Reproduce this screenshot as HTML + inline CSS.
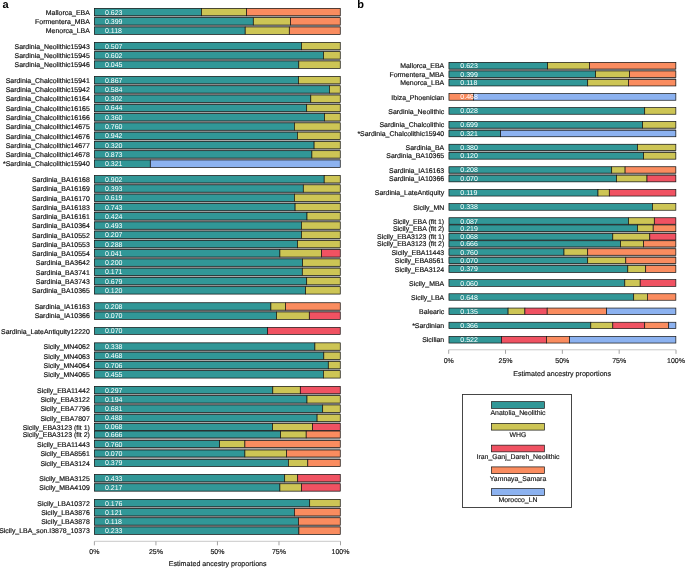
<!DOCTYPE html>
<html><head><meta charset="utf-8"><style>
html,body{margin:0;padding:0;background:#fff;}
svg{display:block;will-change:transform;}
text{text-rendering:geometricPrecision;}
text{font-family:"Liberation Sans",sans-serif;}
.lb{font-size:6.95px;fill:#111;stroke:#111;stroke-width:0.18px;text-anchor:end;}
.vl{font-size:7.0px;fill:#fff;}
.tk{font-size:7.0px;fill:#111;stroke:#111;stroke-width:0.15px;text-anchor:middle;}
.pl{font-size:11px;font-weight:bold;fill:#000;}
</style></head><body>
<svg width="685" height="568" viewBox="0 0 685 568">
<rect x="94.30" y="8.30" width="246.00" height="26.10" fill="#a8a8a8"/>
<rect x="94.30" y="42.30" width="246.00" height="26.10" fill="#a8a8a8"/>
<rect x="94.30" y="76.40" width="246.00" height="91.02" fill="#a8a8a8"/>
<rect x="94.30" y="175.50" width="246.00" height="118.62" fill="#a8a8a8"/>
<rect x="94.30" y="302.70" width="246.00" height="16.70" fill="#a8a8a8"/>
<rect x="94.30" y="342.80" width="246.00" height="35.31" fill="#a8a8a8"/>
<rect x="94.30" y="386.30" width="246.00" height="80.20" fill="#a8a8a8"/>
<rect x="94.30" y="474.40" width="246.00" height="16.80" fill="#a8a8a8"/>
<rect x="94.30" y="499.30" width="246.00" height="35.10" fill="#a8a8a8"/>
<rect x="448.90" y="62.30" width="227.00" height="23.70" fill="#a8a8a8"/>
<rect x="448.90" y="121.50" width="227.00" height="15.30" fill="#a8a8a8"/>
<rect x="448.90" y="144.20" width="227.00" height="15.00" fill="#a8a8a8"/>
<rect x="448.90" y="166.70" width="227.00" height="15.20" fill="#a8a8a8"/>
<rect x="448.90" y="217.70" width="227.00" height="54.70" fill="#a8a8a8"/>
<rect x="94.35" y="8.35" width="107.15" height="7.40" fill="#319797" stroke="#141414" stroke-width="0.7"/>
<rect x="201.50" y="8.35" width="45.10" height="7.40" fill="#CDC555" stroke="#141414" stroke-width="0.7"/>
<rect x="246.60" y="8.35" width="93.65" height="7.40" fill="#FA8C5F" stroke="#141414" stroke-width="0.7"/>
<text x="89.8" y="14.80" class="lb">Mallorca_EBA</text>
<text x="105.0" y="14.55" class="vl">0.623</text>
<rect x="94.35" y="17.65" width="158.95" height="7.40" fill="#319797" stroke="#141414" stroke-width="0.7"/>
<rect x="253.30" y="17.65" width="37.20" height="7.40" fill="#CDC555" stroke="#141414" stroke-width="0.7"/>
<rect x="290.50" y="17.65" width="49.75" height="7.40" fill="#FA8C5F" stroke="#141414" stroke-width="0.7"/>
<text x="89.8" y="24.10" class="lb">Formentera_MBA</text>
<text x="105.0" y="23.85" class="vl">0.399</text>
<rect x="94.35" y="26.95" width="150.85" height="7.40" fill="#319797" stroke="#141414" stroke-width="0.7"/>
<rect x="245.20" y="26.95" width="44.10" height="7.40" fill="#CDC555" stroke="#141414" stroke-width="0.7"/>
<rect x="289.30" y="26.95" width="50.95" height="7.40" fill="#FA8C5F" stroke="#141414" stroke-width="0.7"/>
<text x="89.8" y="33.40" class="lb">Menorca_LBA</text>
<text x="105.0" y="33.15" class="vl">0.118</text>
<rect x="94.35" y="42.35" width="207.15" height="7.40" fill="#319797" stroke="#141414" stroke-width="0.7"/>
<rect x="301.50" y="42.35" width="38.75" height="7.40" fill="#CDC555" stroke="#141414" stroke-width="0.7"/>
<text x="89.8" y="48.80" class="lb">Sardinia_Neolithic15943</text>
<text x="105.0" y="48.55" class="vl">0.507</text>
<rect x="94.35" y="51.65" width="229.15" height="7.40" fill="#319797" stroke="#141414" stroke-width="0.7"/>
<rect x="323.50" y="51.65" width="16.75" height="7.40" fill="#CDC555" stroke="#141414" stroke-width="0.7"/>
<text x="89.8" y="58.10" class="lb">Sardinia_Neolithic15945</text>
<text x="105.0" y="57.85" class="vl">0.602</text>
<rect x="94.35" y="60.95" width="204.45" height="7.40" fill="#319797" stroke="#141414" stroke-width="0.7"/>
<rect x="298.80" y="60.95" width="41.45" height="7.40" fill="#CDC555" stroke="#141414" stroke-width="0.7"/>
<text x="89.8" y="67.40" class="lb">Sardinia_Neolithic15946</text>
<text x="105.0" y="67.15" class="vl">0.045</text>
<rect x="94.35" y="76.45" width="204.15" height="7.40" fill="#319797" stroke="#141414" stroke-width="0.7"/>
<rect x="298.50" y="76.45" width="41.75" height="7.40" fill="#CDC555" stroke="#141414" stroke-width="0.7"/>
<text x="89.8" y="82.90" class="lb">Sardinia_Chalcolithic15941</text>
<text x="105.0" y="82.65" class="vl">0.867</text>
<rect x="94.35" y="85.73" width="235.05" height="7.40" fill="#319797" stroke="#141414" stroke-width="0.7"/>
<rect x="329.40" y="85.73" width="10.85" height="7.40" fill="#CDC555" stroke="#141414" stroke-width="0.7"/>
<text x="89.8" y="92.18" class="lb">Sardinia_Chalcolithic15942</text>
<text x="105.0" y="91.93" class="vl">0.584</text>
<rect x="94.35" y="95.01" width="216.45" height="7.40" fill="#319797" stroke="#141414" stroke-width="0.7"/>
<rect x="310.80" y="95.01" width="29.45" height="7.40" fill="#CDC555" stroke="#141414" stroke-width="0.7"/>
<text x="89.8" y="101.46" class="lb">Sardinia_Chalcolithic16164</text>
<text x="105.0" y="101.21" class="vl">0.302</text>
<rect x="94.35" y="104.29" width="212.35" height="7.40" fill="#319797" stroke="#141414" stroke-width="0.7"/>
<rect x="306.70" y="104.29" width="33.55" height="7.40" fill="#CDC555" stroke="#141414" stroke-width="0.7"/>
<text x="89.8" y="110.74" class="lb">Sardinia_Chalcolithic16165</text>
<text x="105.0" y="110.49" class="vl">0.644</text>
<rect x="94.35" y="113.57" width="230.15" height="7.40" fill="#319797" stroke="#141414" stroke-width="0.7"/>
<rect x="324.50" y="113.57" width="15.75" height="7.40" fill="#CDC555" stroke="#141414" stroke-width="0.7"/>
<text x="89.8" y="120.02" class="lb">Sardinia_Chalcolithic16166</text>
<text x="105.0" y="119.77" class="vl">0.360</text>
<rect x="94.35" y="122.85" width="200.05" height="7.40" fill="#319797" stroke="#141414" stroke-width="0.7"/>
<rect x="294.40" y="122.85" width="45.85" height="7.40" fill="#CDC555" stroke="#141414" stroke-width="0.7"/>
<text x="89.8" y="129.30" class="lb">Sardinia_Chalcolithic14675</text>
<text x="105.0" y="129.05" class="vl">0.760</text>
<rect x="94.35" y="132.13" width="203.05" height="7.40" fill="#319797" stroke="#141414" stroke-width="0.7"/>
<rect x="297.40" y="132.13" width="42.85" height="7.40" fill="#CDC555" stroke="#141414" stroke-width="0.7"/>
<text x="89.8" y="138.58" class="lb">Sardinia_Chalcolithic14676</text>
<text x="105.0" y="138.33" class="vl">0.942</text>
<rect x="94.35" y="141.41" width="219.75" height="7.40" fill="#319797" stroke="#141414" stroke-width="0.7"/>
<rect x="314.10" y="141.41" width="26.15" height="7.40" fill="#CDC555" stroke="#141414" stroke-width="0.7"/>
<text x="89.8" y="147.86" class="lb">Sardinia_Chalcolithic14677</text>
<text x="105.0" y="147.61" class="vl">0.320</text>
<rect x="94.35" y="150.69" width="217.55" height="7.40" fill="#319797" stroke="#141414" stroke-width="0.7"/>
<rect x="311.90" y="150.69" width="28.35" height="7.40" fill="#CDC555" stroke="#141414" stroke-width="0.7"/>
<text x="89.8" y="157.14" class="lb">Sardinia_Chalcolithic14678</text>
<text x="105.0" y="156.89" class="vl">0.873</text>
<rect x="94.35" y="159.97" width="55.95" height="7.40" fill="#319797" stroke="#141414" stroke-width="0.7"/>
<rect x="150.30" y="159.97" width="189.95" height="7.40" fill="#8CB2F0" stroke="#141414" stroke-width="0.7"/>
<text x="89.8" y="166.42" class="lb">*Sardinia_Chalcolithic15940</text>
<text x="105.0" y="166.17" class="vl">0.321</text>
<rect x="94.35" y="175.55" width="229.85" height="7.40" fill="#319797" stroke="#141414" stroke-width="0.7"/>
<rect x="324.20" y="175.55" width="16.05" height="7.40" fill="#CDC555" stroke="#141414" stroke-width="0.7"/>
<text x="89.8" y="182.00" class="lb">Sardinia_BA16168</text>
<text x="105.0" y="181.75" class="vl">0.902</text>
<rect x="94.35" y="184.81" width="208.95" height="7.40" fill="#319797" stroke="#141414" stroke-width="0.7"/>
<rect x="303.30" y="184.81" width="36.95" height="7.40" fill="#CDC555" stroke="#141414" stroke-width="0.7"/>
<text x="89.8" y="191.26" class="lb">Sardinia_BA16169</text>
<text x="105.0" y="191.01" class="vl">0.393</text>
<rect x="94.35" y="194.07" width="200.05" height="7.40" fill="#319797" stroke="#141414" stroke-width="0.7"/>
<rect x="294.40" y="194.07" width="45.85" height="7.40" fill="#CDC555" stroke="#141414" stroke-width="0.7"/>
<text x="89.8" y="200.52" class="lb">Sardinia_BA16170</text>
<text x="105.0" y="200.27" class="vl">0.619</text>
<rect x="94.35" y="203.33" width="200.75" height="7.40" fill="#319797" stroke="#141414" stroke-width="0.7"/>
<rect x="295.10" y="203.33" width="45.15" height="7.40" fill="#CDC555" stroke="#141414" stroke-width="0.7"/>
<text x="89.8" y="209.78" class="lb">Sardinia_BA16183</text>
<text x="105.0" y="209.53" class="vl">0.743</text>
<rect x="94.35" y="212.59" width="212.65" height="7.40" fill="#319797" stroke="#141414" stroke-width="0.7"/>
<rect x="307.00" y="212.59" width="33.25" height="7.40" fill="#CDC555" stroke="#141414" stroke-width="0.7"/>
<text x="89.8" y="219.04" class="lb">Sardinia_BA16161</text>
<text x="105.0" y="218.79" class="vl">0.424</text>
<rect x="94.35" y="221.85" width="207.15" height="7.40" fill="#319797" stroke="#141414" stroke-width="0.7"/>
<rect x="301.50" y="221.85" width="38.75" height="7.40" fill="#CDC555" stroke="#141414" stroke-width="0.7"/>
<text x="89.8" y="228.30" class="lb">Sardinia_BA10364</text>
<text x="105.0" y="228.05" class="vl">0.493</text>
<rect x="94.35" y="231.11" width="207.15" height="7.40" fill="#319797" stroke="#141414" stroke-width="0.7"/>
<rect x="301.50" y="231.11" width="38.75" height="7.40" fill="#CDC555" stroke="#141414" stroke-width="0.7"/>
<text x="89.8" y="237.56" class="lb">Sardinia_BA10552</text>
<text x="105.0" y="237.31" class="vl">0.207</text>
<rect x="94.35" y="240.37" width="203.15" height="7.40" fill="#319797" stroke="#141414" stroke-width="0.7"/>
<rect x="297.50" y="240.37" width="42.75" height="7.40" fill="#CDC555" stroke="#141414" stroke-width="0.7"/>
<text x="89.8" y="246.82" class="lb">Sardinia_BA10553</text>
<text x="105.0" y="246.57" class="vl">0.288</text>
<rect x="94.35" y="249.63" width="185.55" height="7.40" fill="#319797" stroke="#141414" stroke-width="0.7"/>
<rect x="279.90" y="249.63" width="41.70" height="7.40" fill="#CDC555" stroke="#141414" stroke-width="0.7"/>
<rect x="321.60" y="249.63" width="18.65" height="7.40" fill="#F05262" stroke="#141414" stroke-width="0.7"/>
<text x="89.8" y="256.08" class="lb">Sardinia_BA10554</text>
<text x="105.0" y="255.83" class="vl">0.041</text>
<rect x="94.35" y="258.89" width="208.25" height="7.40" fill="#319797" stroke="#141414" stroke-width="0.7"/>
<rect x="302.60" y="258.89" width="37.65" height="7.40" fill="#CDC555" stroke="#141414" stroke-width="0.7"/>
<text x="89.8" y="265.34" class="lb">Sardinia_BA3642</text>
<text x="105.0" y="265.09" class="vl">0.200</text>
<rect x="94.35" y="268.15" width="207.95" height="7.40" fill="#319797" stroke="#141414" stroke-width="0.7"/>
<rect x="302.30" y="268.15" width="37.95" height="7.40" fill="#CDC555" stroke="#141414" stroke-width="0.7"/>
<text x="89.8" y="274.60" class="lb">Sardinia_BA3741</text>
<text x="105.0" y="274.35" class="vl">0.171</text>
<rect x="94.35" y="277.41" width="212.35" height="7.40" fill="#319797" stroke="#141414" stroke-width="0.7"/>
<rect x="306.70" y="277.41" width="33.55" height="7.40" fill="#CDC555" stroke="#141414" stroke-width="0.7"/>
<text x="89.8" y="283.86" class="lb">Sardinia_BA3743</text>
<text x="105.0" y="283.61" class="vl">0.679</text>
<rect x="94.35" y="286.67" width="211.25" height="7.40" fill="#319797" stroke="#141414" stroke-width="0.7"/>
<rect x="305.60" y="286.67" width="34.65" height="7.40" fill="#CDC555" stroke="#141414" stroke-width="0.7"/>
<text x="89.8" y="293.12" class="lb">Sardinia_BA10365</text>
<text x="105.0" y="292.87" class="vl">0.120</text>
<rect x="94.35" y="302.75" width="176.55" height="7.40" fill="#319797" stroke="#141414" stroke-width="0.7"/>
<rect x="270.90" y="302.75" width="14.60" height="7.40" fill="#CDC555" stroke="#141414" stroke-width="0.7"/>
<rect x="285.50" y="302.75" width="54.75" height="7.40" fill="#FA8C5F" stroke="#141414" stroke-width="0.7"/>
<text x="89.8" y="309.20" class="lb">Sardinia_IA16163</text>
<text x="105.0" y="308.95" class="vl">0.208</text>
<rect x="94.35" y="311.95" width="182.15" height="7.40" fill="#319797" stroke="#141414" stroke-width="0.7"/>
<rect x="276.50" y="311.95" width="32.80" height="7.40" fill="#CDC555" stroke="#141414" stroke-width="0.7"/>
<rect x="309.30" y="311.95" width="30.95" height="7.40" fill="#F05262" stroke="#141414" stroke-width="0.7"/>
<text x="89.8" y="318.40" class="lb">Sardinia_IA10366</text>
<text x="105.0" y="318.15" class="vl">0.070</text>
<rect x="94.35" y="327.35" width="173.25" height="7.10" fill="#319797" stroke="#141414" stroke-width="0.7"/>
<rect x="267.60" y="327.35" width="72.65" height="7.10" fill="#F05262" stroke="#141414" stroke-width="0.7"/>
<text x="89.8" y="333.65" class="lb">Sardinia_LateAntiquity12220</text>
<text x="105.0" y="333.40" class="vl">0.070</text>
<rect x="94.35" y="342.85" width="220.55" height="7.40" fill="#319797" stroke="#141414" stroke-width="0.7"/>
<rect x="314.90" y="342.85" width="25.35" height="7.40" fill="#CDC555" stroke="#141414" stroke-width="0.7"/>
<text x="89.8" y="349.30" class="lb">Sicily_MN4062</text>
<text x="105.0" y="349.05" class="vl">0.338</text>
<rect x="94.35" y="352.12" width="229.45" height="7.40" fill="#319797" stroke="#141414" stroke-width="0.7"/>
<rect x="323.80" y="352.12" width="16.45" height="7.40" fill="#CDC555" stroke="#141414" stroke-width="0.7"/>
<text x="89.8" y="358.57" class="lb">Sicily_MN4063</text>
<text x="105.0" y="358.32" class="vl">0.468</text>
<rect x="94.35" y="361.39" width="233.95" height="7.40" fill="#319797" stroke="#141414" stroke-width="0.7"/>
<rect x="328.30" y="361.39" width="11.95" height="7.40" fill="#CDC555" stroke="#141414" stroke-width="0.7"/>
<text x="89.8" y="367.84" class="lb">Sicily_MN4064</text>
<text x="105.0" y="367.59" class="vl">0.706</text>
<rect x="94.35" y="370.66" width="229.05" height="7.40" fill="#319797" stroke="#141414" stroke-width="0.7"/>
<rect x="323.40" y="370.66" width="16.85" height="7.40" fill="#CDC555" stroke="#141414" stroke-width="0.7"/>
<text x="89.8" y="377.11" class="lb">Sicily_MN4065</text>
<text x="105.0" y="376.86" class="vl">0.455</text>
<rect x="94.35" y="386.35" width="178.45" height="7.40" fill="#319797" stroke="#141414" stroke-width="0.7"/>
<rect x="272.80" y="386.35" width="27.50" height="7.40" fill="#CDC555" stroke="#141414" stroke-width="0.7"/>
<rect x="300.30" y="386.35" width="39.95" height="7.40" fill="#F05262" stroke="#141414" stroke-width="0.7"/>
<text x="89.8" y="392.80" class="lb">Sicily_EBA11442</text>
<text x="105.0" y="392.55" class="vl">0.297</text>
<rect x="94.35" y="395.65" width="212.65" height="7.40" fill="#319797" stroke="#141414" stroke-width="0.7"/>
<rect x="307.00" y="395.65" width="33.25" height="7.40" fill="#CDC555" stroke="#141414" stroke-width="0.7"/>
<text x="89.8" y="402.10" class="lb">Sicily_EBA3122</text>
<text x="105.0" y="401.85" class="vl">0.194</text>
<rect x="94.35" y="404.95" width="228.35" height="7.40" fill="#319797" stroke="#141414" stroke-width="0.7"/>
<rect x="322.70" y="404.95" width="17.55" height="7.40" fill="#CDC555" stroke="#141414" stroke-width="0.7"/>
<text x="89.8" y="411.40" class="lb">Sicily_EBA7796</text>
<text x="105.0" y="411.15" class="vl">0.681</text>
<rect x="94.35" y="414.25" width="222.75" height="7.40" fill="#319797" stroke="#141414" stroke-width="0.7"/>
<rect x="317.10" y="414.25" width="23.15" height="7.40" fill="#CDC555" stroke="#141414" stroke-width="0.7"/>
<text x="89.8" y="420.70" class="lb">Sicily_EBA7807</text>
<text x="105.0" y="420.45" class="vl">0.488</text>
<rect x="94.35" y="423.45" width="178.25" height="6.90" fill="#319797" stroke="#141414" stroke-width="0.7"/>
<rect x="272.60" y="423.45" width="40.00" height="6.90" fill="#CDC555" stroke="#141414" stroke-width="0.7"/>
<rect x="312.60" y="423.45" width="27.65" height="6.90" fill="#F05262" stroke="#141414" stroke-width="0.7"/>
<text x="89.8" y="429.65" class="lb">Sicily_EBA3123 (fit 1)</text>
<text x="105.0" y="429.40" class="vl">0.068</text>
<rect x="94.35" y="431.05" width="186.25" height="6.90" fill="#319797" stroke="#141414" stroke-width="0.7"/>
<rect x="280.60" y="431.05" width="25.60" height="6.90" fill="#CDC555" stroke="#141414" stroke-width="0.7"/>
<rect x="306.20" y="431.05" width="34.05" height="6.90" fill="#FA8C5F" stroke="#141414" stroke-width="0.7"/>
<text x="89.8" y="437.25" class="lb">Sicily_EBA3123 (fit 2)</text>
<text x="105.0" y="437.00" class="vl">0.666</text>
<rect x="94.35" y="440.55" width="125.25" height="7.00" fill="#319797" stroke="#141414" stroke-width="0.7"/>
<rect x="219.60" y="440.55" width="25.30" height="7.00" fill="#CDC555" stroke="#141414" stroke-width="0.7"/>
<rect x="244.90" y="440.55" width="95.35" height="7.00" fill="#FA8C5F" stroke="#141414" stroke-width="0.7"/>
<text x="89.8" y="446.80" class="lb">Sicily_EBA11443</text>
<text x="105.0" y="446.55" class="vl">0.760</text>
<rect x="94.35" y="450.00" width="150.55" height="7.00" fill="#319797" stroke="#141414" stroke-width="0.7"/>
<rect x="244.90" y="450.00" width="41.70" height="7.00" fill="#CDC555" stroke="#141414" stroke-width="0.7"/>
<rect x="286.60" y="450.00" width="53.65" height="7.00" fill="#FA8C5F" stroke="#141414" stroke-width="0.7"/>
<text x="89.8" y="456.25" class="lb">Sicily_EBA8561</text>
<text x="105.0" y="456.00" class="vl">0.070</text>
<rect x="94.35" y="459.45" width="194.05" height="7.00" fill="#319797" stroke="#141414" stroke-width="0.7"/>
<rect x="288.40" y="459.45" width="19.40" height="7.00" fill="#CDC555" stroke="#141414" stroke-width="0.7"/>
<rect x="307.80" y="459.45" width="32.45" height="7.00" fill="#FA8C5F" stroke="#141414" stroke-width="0.7"/>
<text x="89.8" y="465.70" class="lb">Sicily_EBA3124</text>
<text x="105.0" y="465.45" class="vl">0.379</text>
<rect x="94.35" y="474.45" width="190.35" height="7.40" fill="#319797" stroke="#141414" stroke-width="0.7"/>
<rect x="284.70" y="474.45" width="13.00" height="7.40" fill="#CDC555" stroke="#141414" stroke-width="0.7"/>
<rect x="297.70" y="474.45" width="42.55" height="7.40" fill="#F05262" stroke="#141414" stroke-width="0.7"/>
<text x="89.8" y="480.90" class="lb">Sicily_MBA3125</text>
<text x="105.0" y="480.65" class="vl">0.433</text>
<rect x="94.35" y="483.75" width="185.55" height="7.40" fill="#319797" stroke="#141414" stroke-width="0.7"/>
<rect x="279.90" y="483.75" width="21.60" height="7.40" fill="#CDC555" stroke="#141414" stroke-width="0.7"/>
<rect x="301.50" y="483.75" width="38.75" height="7.40" fill="#F05262" stroke="#141414" stroke-width="0.7"/>
<text x="89.8" y="490.20" class="lb">Sicily_MBA4109</text>
<text x="105.0" y="489.95" class="vl">0.217</text>
<rect x="94.35" y="499.35" width="215.35" height="7.40" fill="#319797" stroke="#141414" stroke-width="0.7"/>
<rect x="309.70" y="499.35" width="30.55" height="7.40" fill="#CDC555" stroke="#141414" stroke-width="0.7"/>
<text x="89.8" y="505.80" class="lb">Sicily_LBA10372</text>
<text x="105.0" y="505.55" class="vl">0.176</text>
<rect x="94.35" y="508.55" width="200.05" height="7.40" fill="#319797" stroke="#141414" stroke-width="0.7"/>
<rect x="294.40" y="508.55" width="45.85" height="7.40" fill="#FA8C5F" stroke="#141414" stroke-width="0.7"/>
<text x="89.8" y="515.00" class="lb">Sicily_LBA3876</text>
<text x="105.0" y="514.75" class="vl">0.121</text>
<rect x="94.35" y="517.75" width="204.15" height="7.40" fill="#319797" stroke="#141414" stroke-width="0.7"/>
<rect x="298.50" y="517.75" width="41.75" height="7.40" fill="#FA8C5F" stroke="#141414" stroke-width="0.7"/>
<text x="89.8" y="524.20" class="lb">Sicily_LBA3878</text>
<text x="105.0" y="523.95" class="vl">0.118</text>
<rect x="94.35" y="526.95" width="204.55" height="7.40" fill="#319797" stroke="#141414" stroke-width="0.7"/>
<rect x="298.90" y="526.95" width="41.35" height="7.40" fill="#FA8C5F" stroke="#141414" stroke-width="0.7"/>
<text x="89.8" y="533.40" class="lb">Sicily_LBA_son.I3878_10373</text>
<text x="105.0" y="533.15" class="vl">0.233</text>
<rect x="448.95" y="62.35" width="98.65" height="6.70" fill="#319797" stroke="#141414" stroke-width="0.7"/>
<rect x="547.60" y="62.35" width="41.80" height="6.70" fill="#CDC555" stroke="#141414" stroke-width="0.7"/>
<rect x="589.40" y="62.35" width="86.45" height="6.70" fill="#FA8C5F" stroke="#141414" stroke-width="0.7"/>
<text x="444.2" y="68.30" class="lb">Mallorca_EBA</text>
<text x="460.3" y="68.20" class="vl">0.623</text>
<rect x="448.95" y="70.95" width="146.65" height="6.60" fill="#319797" stroke="#141414" stroke-width="0.7"/>
<rect x="595.60" y="70.95" width="34.00" height="6.60" fill="#CDC555" stroke="#141414" stroke-width="0.7"/>
<rect x="629.60" y="70.95" width="46.25" height="6.60" fill="#FA8C5F" stroke="#141414" stroke-width="0.7"/>
<text x="444.2" y="76.85" class="lb">Formentera_MBA</text>
<text x="460.3" y="76.75" class="vl">0.399</text>
<rect x="448.95" y="79.45" width="138.75" height="6.50" fill="#319797" stroke="#141414" stroke-width="0.7"/>
<rect x="587.70" y="79.45" width="40.80" height="6.50" fill="#CDC555" stroke="#141414" stroke-width="0.7"/>
<rect x="628.50" y="79.45" width="47.35" height="6.50" fill="#FA8C5F" stroke="#141414" stroke-width="0.7"/>
<text x="444.2" y="85.30" class="lb">Menorca_LBA</text>
<text x="460.3" y="85.20" class="vl">0.118</text>
<rect x="448.95" y="93.55" width="24.45" height="6.70" fill="#FA8C5F" stroke="#141414" stroke-width="0.7"/>
<rect x="473.40" y="93.55" width="202.45" height="6.70" fill="#8CB2F0" stroke="#141414" stroke-width="0.7"/>
<text x="444.2" y="99.50" class="lb">Ibiza_Phoenician</text>
<text x="460.3" y="99.40" class="vl">0.468</text>
<rect x="448.95" y="107.55" width="195.75" height="6.70" fill="#319797" stroke="#141414" stroke-width="0.7"/>
<rect x="644.70" y="107.55" width="31.15" height="6.70" fill="#CDC555" stroke="#141414" stroke-width="0.7"/>
<text x="444.2" y="113.50" class="lb">Sardinia_Neolithic</text>
<text x="460.3" y="113.40" class="vl">0.028</text>
<rect x="448.95" y="121.55" width="193.65" height="6.60" fill="#319797" stroke="#141414" stroke-width="0.7"/>
<rect x="642.60" y="121.55" width="33.25" height="6.60" fill="#CDC555" stroke="#141414" stroke-width="0.7"/>
<text x="444.2" y="127.45" class="lb">Sardinia_Chalcolithic</text>
<text x="460.3" y="127.35" class="vl">0.699</text>
<rect x="448.95" y="130.25" width="51.65" height="6.50" fill="#319797" stroke="#141414" stroke-width="0.7"/>
<rect x="500.60" y="130.25" width="175.25" height="6.50" fill="#8CB2F0" stroke="#141414" stroke-width="0.7"/>
<text x="444.2" y="136.10" class="lb">*Sardinia_Chalcolithic15940</text>
<text x="460.3" y="136.00" class="vl">0.321</text>
<rect x="448.95" y="144.25" width="188.55" height="6.30" fill="#319797" stroke="#141414" stroke-width="0.7"/>
<rect x="637.50" y="144.25" width="38.35" height="6.30" fill="#CDC555" stroke="#141414" stroke-width="0.7"/>
<text x="444.2" y="150.00" class="lb">Sardinia_BA</text>
<text x="460.3" y="149.90" class="vl">0.380</text>
<rect x="448.95" y="152.45" width="194.65" height="6.70" fill="#319797" stroke="#141414" stroke-width="0.7"/>
<rect x="643.60" y="152.45" width="32.25" height="6.70" fill="#CDC555" stroke="#141414" stroke-width="0.7"/>
<text x="444.2" y="158.40" class="lb">Sardinia_BA10365</text>
<text x="460.3" y="158.30" class="vl">0.120</text>
<rect x="448.95" y="166.75" width="162.75" height="6.40" fill="#319797" stroke="#141414" stroke-width="0.7"/>
<rect x="611.70" y="166.75" width="13.40" height="6.40" fill="#CDC555" stroke="#141414" stroke-width="0.7"/>
<rect x="625.10" y="166.75" width="50.75" height="6.40" fill="#FA8C5F" stroke="#141414" stroke-width="0.7"/>
<text x="444.2" y="172.55" class="lb">Sardinia_IA16163</text>
<text x="460.3" y="172.45" class="vl">0.208</text>
<rect x="448.95" y="175.15" width="167.55" height="6.70" fill="#319797" stroke="#141414" stroke-width="0.7"/>
<rect x="616.50" y="175.15" width="30.50" height="6.70" fill="#CDC555" stroke="#141414" stroke-width="0.7"/>
<rect x="647.00" y="175.15" width="28.85" height="6.70" fill="#F05262" stroke="#141414" stroke-width="0.7"/>
<text x="444.2" y="181.10" class="lb">Sardinia_IA10366</text>
<text x="460.3" y="181.00" class="vl">0.070</text>
<rect x="448.95" y="189.45" width="149.05" height="6.60" fill="#319797" stroke="#141414" stroke-width="0.7"/>
<rect x="598.00" y="189.45" width="11.30" height="6.60" fill="#CDC555" stroke="#141414" stroke-width="0.7"/>
<rect x="609.30" y="189.45" width="66.55" height="6.60" fill="#F05262" stroke="#141414" stroke-width="0.7"/>
<text x="444.2" y="195.35" class="lb">Sardinia_LateAntiquity</text>
<text x="460.3" y="195.25" class="vl">0.119</text>
<rect x="448.95" y="203.55" width="203.55" height="6.70" fill="#319797" stroke="#141414" stroke-width="0.7"/>
<rect x="652.50" y="203.55" width="23.35" height="6.70" fill="#CDC555" stroke="#141414" stroke-width="0.7"/>
<text x="444.2" y="209.50" class="lb">Sicily_MN</text>
<text x="460.3" y="209.40" class="vl">0.338</text>
<rect x="448.95" y="217.75" width="179.55" height="6.50" fill="#319797" stroke="#141414" stroke-width="0.7"/>
<rect x="628.50" y="217.75" width="25.80" height="6.50" fill="#CDC555" stroke="#141414" stroke-width="0.7"/>
<rect x="654.30" y="217.75" width="21.55" height="6.50" fill="#F05262" stroke="#141414" stroke-width="0.7"/>
<text x="444.2" y="223.60" class="lb">Sicily_EBA (fit 1)</text>
<text x="460.3" y="223.50" class="vl">0.087</text>
<rect x="448.95" y="224.95" width="188.55" height="6.70" fill="#319797" stroke="#141414" stroke-width="0.7"/>
<rect x="637.50" y="224.95" width="15.70" height="6.70" fill="#CDC555" stroke="#141414" stroke-width="0.7"/>
<rect x="653.20" y="224.95" width="22.65" height="6.70" fill="#FA8C5F" stroke="#141414" stroke-width="0.7"/>
<text x="444.2" y="230.90" class="lb">Sicily_EBA (fit 2)</text>
<text x="460.3" y="230.80" class="vl">0.219</text>
<rect x="448.95" y="233.55" width="163.85" height="6.50" fill="#319797" stroke="#141414" stroke-width="0.7"/>
<rect x="612.80" y="233.55" width="37.00" height="6.50" fill="#CDC555" stroke="#141414" stroke-width="0.7"/>
<rect x="649.80" y="233.55" width="26.05" height="6.50" fill="#F05262" stroke="#141414" stroke-width="0.7"/>
<text x="444.2" y="239.40" class="lb">Sicily_EBA3123 (fit 1)</text>
<text x="460.3" y="239.30" class="vl">0.068</text>
<rect x="448.95" y="240.75" width="171.65" height="6.20" fill="#319797" stroke="#141414" stroke-width="0.7"/>
<rect x="620.60" y="240.75" width="23.00" height="6.20" fill="#CDC555" stroke="#141414" stroke-width="0.7"/>
<rect x="643.60" y="240.75" width="32.25" height="6.20" fill="#FA8C5F" stroke="#141414" stroke-width="0.7"/>
<text x="444.2" y="246.45" class="lb">Sicily_EBA3123 (fit 2)</text>
<text x="460.3" y="246.35" class="vl">0.666</text>
<rect x="448.95" y="248.75" width="115.05" height="6.50" fill="#319797" stroke="#141414" stroke-width="0.7"/>
<rect x="564.00" y="248.75" width="23.70" height="6.50" fill="#CDC555" stroke="#141414" stroke-width="0.7"/>
<rect x="587.70" y="248.75" width="88.15" height="6.50" fill="#FA8C5F" stroke="#141414" stroke-width="0.7"/>
<text x="444.2" y="254.60" class="lb">Sicily_EBA11443</text>
<text x="460.3" y="254.50" class="vl">0.760</text>
<rect x="448.95" y="257.25" width="138.75" height="6.40" fill="#319797" stroke="#141414" stroke-width="0.7"/>
<rect x="587.70" y="257.25" width="38.10" height="6.40" fill="#CDC555" stroke="#141414" stroke-width="0.7"/>
<rect x="625.80" y="257.25" width="50.05" height="6.40" fill="#FA8C5F" stroke="#141414" stroke-width="0.7"/>
<text x="444.2" y="263.05" class="lb">Sicily_EBA8561</text>
<text x="460.3" y="262.95" class="vl">0.070</text>
<rect x="448.95" y="265.45" width="178.85" height="6.90" fill="#319797" stroke="#141414" stroke-width="0.7"/>
<rect x="627.80" y="265.45" width="17.90" height="6.90" fill="#CDC555" stroke="#141414" stroke-width="0.7"/>
<rect x="645.70" y="265.45" width="30.15" height="6.90" fill="#FA8C5F" stroke="#141414" stroke-width="0.7"/>
<text x="444.2" y="271.50" class="lb">Sicily_EBA3124</text>
<text x="460.3" y="271.40" class="vl">0.379</text>
<rect x="448.95" y="279.65" width="175.85" height="6.70" fill="#319797" stroke="#141414" stroke-width="0.7"/>
<rect x="624.80" y="279.65" width="15.40" height="6.70" fill="#CDC555" stroke="#141414" stroke-width="0.7"/>
<rect x="640.20" y="279.65" width="35.65" height="6.70" fill="#F05262" stroke="#141414" stroke-width="0.7"/>
<text x="444.2" y="285.60" class="lb">Sicily_MBA</text>
<text x="460.3" y="285.50" class="vl">0.060</text>
<rect x="448.95" y="293.75" width="184.75" height="6.50" fill="#319797" stroke="#141414" stroke-width="0.7"/>
<rect x="633.70" y="293.75" width="13.70" height="6.50" fill="#CDC555" stroke="#141414" stroke-width="0.7"/>
<rect x="647.40" y="293.75" width="28.45" height="6.50" fill="#FA8C5F" stroke="#141414" stroke-width="0.7"/>
<text x="444.2" y="299.60" class="lb">Sicily_LBA</text>
<text x="460.3" y="299.50" class="vl">0.648</text>
<rect x="448.95" y="308.05" width="59.15" height="6.50" fill="#319797" stroke="#141414" stroke-width="0.7"/>
<rect x="508.10" y="308.05" width="16.80" height="6.50" fill="#CDC555" stroke="#141414" stroke-width="0.7"/>
<rect x="524.90" y="308.05" width="22.30" height="6.50" fill="#F05262" stroke="#141414" stroke-width="0.7"/>
<rect x="547.20" y="308.05" width="59.40" height="6.50" fill="#FA8C5F" stroke="#141414" stroke-width="0.7"/>
<rect x="606.60" y="308.05" width="69.25" height="6.50" fill="#8CB2F0" stroke="#141414" stroke-width="0.7"/>
<text x="444.2" y="313.90" class="lb">Balearic</text>
<text x="460.3" y="313.80" class="vl">0.135</text>
<rect x="448.95" y="322.25" width="141.85" height="6.40" fill="#319797" stroke="#141414" stroke-width="0.7"/>
<rect x="590.80" y="322.25" width="22.00" height="6.40" fill="#CDC555" stroke="#141414" stroke-width="0.7"/>
<rect x="612.80" y="322.25" width="31.90" height="6.40" fill="#F05262" stroke="#141414" stroke-width="0.7"/>
<rect x="644.70" y="322.25" width="24.00" height="6.40" fill="#FA8C5F" stroke="#141414" stroke-width="0.7"/>
<rect x="668.70" y="322.25" width="7.15" height="6.40" fill="#8CB2F0" stroke="#141414" stroke-width="0.7"/>
<text x="444.2" y="328.05" class="lb">*Sardinian</text>
<text x="460.3" y="327.95" class="vl">0.366</text>
<rect x="448.95" y="336.35" width="52.65" height="6.70" fill="#319797" stroke="#141414" stroke-width="0.7"/>
<rect x="501.60" y="336.35" width="44.90" height="6.70" fill="#F05262" stroke="#141414" stroke-width="0.7"/>
<rect x="546.50" y="336.35" width="23.00" height="6.70" fill="#FA8C5F" stroke="#141414" stroke-width="0.7"/>
<rect x="569.50" y="336.35" width="106.35" height="6.70" fill="#8CB2F0" stroke="#141414" stroke-width="0.7"/>
<text x="444.2" y="342.30" class="lb">Sicilian</text>
<text x="460.3" y="342.20" class="vl">0.522</text>
<line x1="94.4" y1="541.3" x2="340.5" y2="541.3" stroke="#c8c8c8" stroke-width="1"/>
<line x1="94.40" y1="541.3" x2="94.40" y2="545.3" stroke="#9a9a9a" stroke-width="0.9"/>
<text x="94.40" y="554.3" class="tk">0%</text>
<line x1="155.93" y1="541.3" x2="155.93" y2="545.3" stroke="#9a9a9a" stroke-width="0.9"/>
<text x="155.93" y="554.3" class="tk">25%</text>
<line x1="217.45" y1="541.3" x2="217.45" y2="545.3" stroke="#9a9a9a" stroke-width="0.9"/>
<text x="217.45" y="554.3" class="tk">50%</text>
<line x1="278.98" y1="541.3" x2="278.98" y2="545.3" stroke="#9a9a9a" stroke-width="0.9"/>
<text x="278.98" y="554.3" class="tk">75%</text>
<line x1="340.50" y1="541.3" x2="340.50" y2="545.3" stroke="#9a9a9a" stroke-width="0.9"/>
<text x="340.50" y="554.3" class="tk">100%</text>
<text x="217.7" y="566.4" class="tk" style="font-size:7.1px">Estimated ancestry proportions</text>
<line x1="448.7" y1="349.8" x2="676.0" y2="349.8" stroke="#c8c8c8" stroke-width="1"/>
<line x1="448.70" y1="349.8" x2="448.70" y2="353.8" stroke="#9a9a9a" stroke-width="0.9"/>
<text x="448.70" y="362.8" class="tk">0%</text>
<line x1="505.52" y1="349.8" x2="505.52" y2="353.8" stroke="#9a9a9a" stroke-width="0.9"/>
<text x="505.52" y="362.8" class="tk">25%</text>
<line x1="562.35" y1="349.8" x2="562.35" y2="353.8" stroke="#9a9a9a" stroke-width="0.9"/>
<text x="562.35" y="362.8" class="tk">50%</text>
<line x1="619.17" y1="349.8" x2="619.17" y2="353.8" stroke="#9a9a9a" stroke-width="0.9"/>
<text x="619.17" y="362.8" class="tk">75%</text>
<line x1="676.00" y1="349.8" x2="676.00" y2="353.8" stroke="#9a9a9a" stroke-width="0.9"/>
<text x="676.00" y="362.8" class="tk">100%</text>
<text x="562.2" y="375.6" class="tk" style="font-size:7.1px">Estimated ancestry proportions</text>
<rect x="462.5" y="394.5" width="109" height="113" fill="none" stroke="#333" stroke-width="0.9"/>
<rect x="491.45" y="401.65" width="52.90" height="6.70" fill="#319797" stroke="#141414" stroke-width="0.7"/>
<text x="518" y="415.40" class="tk" style="font-size:6.88px">Anatolia_Neolithic</text>
<rect x="491.45" y="423.40" width="52.90" height="6.70" fill="#CDC555" stroke="#141414" stroke-width="0.7"/>
<text x="518" y="437.15" class="tk" style="font-size:6.88px">WHG</text>
<rect x="491.45" y="445.15" width="52.90" height="6.70" fill="#F05262" stroke="#141414" stroke-width="0.7"/>
<text x="518" y="458.90" class="tk" style="font-size:6.88px">Iran_Ganj_Dareh_Neolithic</text>
<rect x="491.45" y="466.90" width="52.90" height="6.70" fill="#FA8C5F" stroke="#141414" stroke-width="0.7"/>
<text x="518" y="480.65" class="tk" style="font-size:6.88px">Yamnaya_Samara</text>
<rect x="491.45" y="488.65" width="52.90" height="6.70" fill="#8CB2F0" stroke="#141414" stroke-width="0.7"/>
<text x="518" y="502.40" class="tk" style="font-size:6.88px">Morocco_LN</text>
<text x="2.5" y="7.9" class="pl">a</text>
<text x="357.3" y="7.6" class="pl">b</text>
</svg>
</body></html>
